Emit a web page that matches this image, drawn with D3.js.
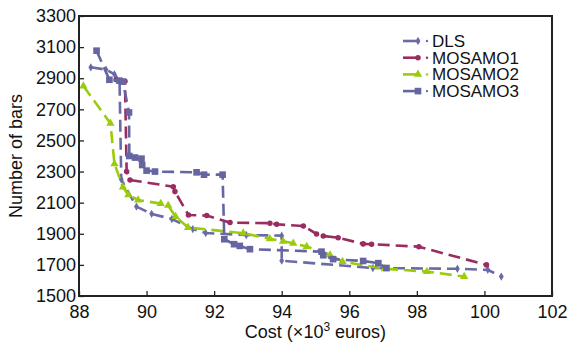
<!DOCTYPE html>
<html>
<head>
<meta charset="utf-8">
<script src="https://cdn.jsdelivr.net/npm/d3@7"></script>
<style>
  body { margin: 0; background: #fff; }
  text { font-family: "Liberation Sans", Arial, sans-serif; fill: #111; }
</style>
</head>
<body>
<div id="chart"></div>
<script>
const WIDTH = 571
const HEIGHT = 349
const LEFT = 79, TOP = 16, RIGHT = 552, BOTTOM = 296

// data: [cost (x10^3 euros), number of bars]
const dls = [
  [88.35, 2970], [88.8, 2955], [89.05, 2925], [89.2, 2880], [89.25, 2250],
  [89.7, 2075], [90.15, 2028], [90.75, 1995], [91.37, 1930], [91.75, 1905],
  [92.95, 1892], [94.0, 1888], [94.0, 1727], [96.7, 1680], [99.2, 1675],
  [100.1, 1668], [100.5, 1625]
]
const mosamo1 = [
  [89.1, 2890], [89.36, 2880], [89.41, 2300], [89.51, 2246], [90.79, 2203],
  [90.84, 2171], [91.24, 2021], [91.78, 2017], [92.47, 1972], [93.65, 1968],
  [93.85, 1961], [94.64, 1950], [95.03, 1899], [95.23, 1886], [95.67, 1875],
  [96.41, 1835], [96.66, 1833], [98.06, 1817], [100.06, 1700]
]
const mosamo2 = [
  [88.13, 2850], [88.93, 2610], [89.05, 2350], [89.3, 2200], [89.46, 2150],
  [89.75, 2117], [90.42, 2094], [90.64, 2082], [90.86, 2010], [91.23, 1940],
  [92.86, 1904], [93.65, 1868], [94.04, 1852], [94.34, 1839], [94.74, 1818],
  [95.43, 1764], [95.8, 1721], [97.05, 1675], [98.3, 1657], [99.4, 1625]
]
const mosamo3 = [
  [88.52, 3077], [88.9, 2890], [89.2, 2884], [89.3, 2878], [89.48, 2680],
  [89.49, 2400], [89.66, 2390], [89.85, 2383], [89.87, 2342], [90.0, 2306],
  [90.25, 2300], [91.48, 2295], [91.7, 2280], [92.25, 2280], [92.3, 1865],
  [92.59, 1833], [92.76, 1822], [93.06, 1801], [95.18, 1785], [95.23, 1762],
  [95.52, 1737], [96.41, 1725], [96.86, 1711], [97.1, 1680]
]
const seriesNames = ['DLS', 'MOSAMO1', 'MOSAMO2', 'MOSAMO3']
const xTicks = [88, 90, 92, 94, 96, 98, 100, 102]
const yTicks = [1500, 1700, 1900, 2100, 2300, 2500, 2700, 2900, 3100, 3300]

const COLORS = ['#6a6aa6', '#9b2c60', '#9acb0c', '#6565a2']
const SYMBOLS = [d3.symbolDiamond, d3.symbolCircle, d3.symbolTriangle, d3.symbolSquare]
const SYM_SIZE = [20, 24, 30, 44]

const svg = d3.select('#chart').append('svg')
  .attr('width', WIDTH)
  .attr('height', HEIGHT)

const x = d3.scaleLinear().domain([88, 102]).range([LEFT, RIGHT])
const y = d3.scaleLinear().domain([1500, 3300]).range([BOTTOM, TOP])

// series
const allSeries = [dls, mosamo1, mosamo2, mosamo3]
const line = d3.line().x(d => x(d[0])).y(d => y(d[1]))

allSeries.forEach((data, i) => {
  const g = svg.append('g')
  g.append('path')
    .datum(data)
    .attr('fill', 'none')
    .attr('stroke', COLORS[i])
    .attr('stroke-width', 2.6)
    .attr('stroke-dasharray', '12,6')
    .attr('d', line)
  g.selectAll('path.pt')
    .data(data)
    .enter()
    .append('path')
    .attr('class', 'pt')
    .attr('transform', d => `translate(${x(d[0])},${y(d[1])})`)
    .attr('d', d3.symbol().type(SYMBOLS[i]).size(SYM_SIZE[i]))
    .attr('fill', COLORS[i])
})

// axes
const xAxis = svg.append('g')
  .attr('transform', `translate(0,${BOTTOM})`)
  .call(d3.axisBottom(x).tickValues(xTicks).tickSizeInner(-5).tickSizeOuter(0).tickPadding(9))
const yAxis = svg.append('g')
  .attr('transform', `translate(${LEFT},0)`)
  .call(d3.axisLeft(y).tickValues(yTicks).tickFormat(d3.format('d'))
    .tickSizeInner(-5).tickSizeOuter(0).tickPadding(3))

;[xAxis, yAxis].forEach(a => {
  a.select('.domain').remove()
  a.selectAll('line').attr('stroke', '#222').attr('stroke-width', 1.3)
  a.selectAll('text').attr('font-size', '18px').attr('fill', '#111')
    .attr('font-family', '"Liberation Sans", Arial, sans-serif')
})

// frame
svg.append('rect')
  .attr('x', LEFT).attr('y', TOP)
  .attr('width', RIGHT - LEFT).attr('height', BOTTOM - TOP)
  .attr('fill', 'none')
  .attr('stroke', '#222')
  .attr('stroke-width', 2)

// axis titles
svg.append('text')
  .attr('x', (LEFT + RIGHT) / 2)
  .attr('y', 338)
  .attr('text-anchor', 'middle')
  .attr('font-size', '18px')
  .html('Cost (×10<tspan baseline-shift="super" font-size="12px">3</tspan> euros)')

svg.append('text')
  .attr('transform', `translate(22,${(TOP + BOTTOM) / 2}) rotate(-90)`)
  .attr('text-anchor', 'middle')
  .attr('font-size', '18px')
  .text('Number of bars')

// legend
const legend = svg.append('g')
seriesNames.forEach((name, i) => {
  const ly = 41 + i * 16.7
  legend.append('line')
    .attr('x1', 403).attr('x2', 420)
    .attr('y1', ly).attr('y2', ly)
    .attr('stroke', COLORS[i]).attr('stroke-width', 2.6)
  legend.append('path')
    .attr('transform', `translate(418,${ly})`)
    .attr('d', d3.symbol().type(SYMBOLS[i]).size(SYM_SIZE[i]))
    .attr('fill', COLORS[i])
  legend.append('circle')
    .attr('cx', 427).attr('cy', ly).attr('r', 1.2)
    .attr('fill', COLORS[i])
  legend.append('text')
    .attr('x', 432).attr('y', ly)
    .attr('dy', '0.35em')
    .attr('font-size', '17px')
    .text(name)
})
</script>
</body>
</html>
